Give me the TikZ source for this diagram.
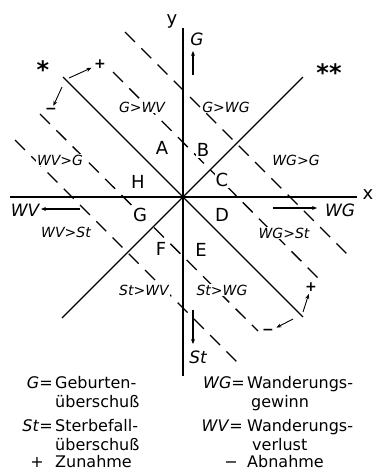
\documentclass[tikz,border=0pt]{standalone}
\usepackage{fontspec}
\setmainfont{DejaVu Sans}
\usetikzlibrary{arrows.meta,calc}

\begin{document}
\begin{tikzpicture}[
  x=1pt, y=-1pt,
  >={Stealth[length=5pt,width=4pt]},
  axisline/.style={line width=1.5pt},
  diagline/.style={line width=1.2pt},
  limitline/.style={line width=1.3pt, dash pattern=on 14pt off 9pt},
  flowarrow/.style={->, line width=1.2pt},
  trendarrow/.style={->, line width=0.9pt, shorten >=1pt},
  region/.style={font=\fontsize{18}{18}\selectfont, fill=white, inner sep=1pt},
  relation/.style={font=\fontsize{14}{14}\selectfont\itshape,
                   fill=white, inner sep=1pt},
  flowlabel/.style={font=\fontsize{17}{17}\selectfont\itshape, inner sep=0pt},
  axislabel/.style={font=\fontsize{18}{18}\selectfont, inner sep=0pt},
  sign/.style={font=\fontsize{14}{14}\selectfont\bfseries, inner sep=1.5pt},
  star/.style={font=\fontsize{24}{24}\selectfont\bfseries, inner sep=0pt},
  legkey/.style={font=\fontsize{16}{16}\selectfont, inner sep=0pt, anchor=base east},
  legtext/.style={font=\fontsize{16}{16}\selectfont, inner sep=0pt, anchor=base west},
]
\useasboundingbox (0,0) rectangle (375,472);

% --- Axes ---
\coordinate (O)  at (183,197);
\coordinate (xl) at (10,197);
\coordinate (xr) at (357,197);
\coordinate (yt) at (183,28);
\coordinate (yb) at (183,376);
\draw[axisline] (xl) -- (xr);
\draw[axisline] (yt) -- (yb);
\node[axislabel] (xlab) at (368,195) {x};
\node[axislabel] (ylab) at (172,21) {y};

% --- Solid diagonals through the origin ---
\coordinate (nw) at ($(O)+(-120,-120)$);
\coordinate (se) at ($(O)+(120,120)$);
\coordinate (ne) at ($(O)+(120,-120)$);
\coordinate (sw) at ($(O)+(-121,121)$);
\draw[diagline] (nw) -- (se);
\draw[diagline] (ne) -- (sw);

% --- Dashed limit lines, parallel to the falling diagonal ---
\foreach \n/\ax/\ay/\bx/\by in {a/125/32/352/259, b/113/72/323/283,
                                c/40/114/258/331, d/15/140/240/365}{
  \coordinate (\n1) at (\ax,\ay);
  \coordinate (\n2) at (\bx,\by);
  \draw[limitline] (\n1) -- (\n2);
}

% --- Flow arrows on the axes ---
\node[flowlabel] (G)  at (197,39)  {G};
\node[flowlabel] (St) at (198,357) {St};
\node[flowlabel] (WV) at (25,210)  {WV};
\node[flowlabel] (WG) at (340,210) {WG};
\coordinate (gS)  at (193,75);  \coordinate (gE)  at (193,51);
\coordinate (stS) at (193,310); \coordinate (stE) at (193,344);
\coordinate (wvS) at (80,209);  \coordinate (wvE) at (41,209);
\coordinate (wgS) at (273,208); \coordinate (wgE) at (317,208);
\draw[flowarrow] (gS) -- (gE);
\draw[flowarrow] (stS) -- (stE);
\draw[flowarrow] (wvS) -- (wvE);
\draw[flowarrow] (wgS) -- (wgE);

% --- Regions ---
\node[region] (rA) at (162,148) {A};
\node[region] (rB) at (203,150) {B};
\node[region] (rC) at (222,180) {C};
\node[region] (rD) at (222,215) {D};
\node[region] (rE) at (201,250) {E};
\node[region] (rF) at (161,249) {F};
\node[region] (rG) at (140,215) {G};
\node[region] (rH) at (138,182) {H};

% --- Relations between the components ---
\node[relation] (gwv)  at (142,107) {G>WV};
\node[relation] (gwg)  at (226,107) {G>WG};
\node[relation] (wgg)  at (296,160) {WG>G};
\node[relation] (wgst) at (284,233) {WG>St};
\node[relation] (stwg) at (222,290) {St>WG};
\node[relation] (stwv) at (144,290) {St>WV};
\node[relation] (wvst) at (66,232)  {WV>St};
\node[relation] (wvg)  at (60,160)  {WV>G};

% --- Stars and trend signs at the ends of the diagonal ---
\node[star] (s1) at (43,70)  {*};
\node[star] (s2) at (329,73) {**};
\node[sign] (plusNW)  at (100,64)  {+};
\node[sign] (minusNW) at (51,111)  {−};
\node[sign] (plusSE)  at (311,287) {+};
\node[sign] (minusSE) at (268,332) {−};
\coordinate (nwP) at (69,78);
\coordinate (nwM) at (62,87);
\coordinate (seP) at (303,312);
\coordinate (seM) at (293,319);
\draw[trendarrow] (nwP) -- (plusNW);
\draw[trendarrow] (nwM) -- (minusNW);
\draw[trendarrow] (seP) -- (plusSE);
\draw[trendarrow] (seM) -- (minusSE);

% --- Legend ---
\node[legkey]  (kG)   at (53,388)  {\textit{G}=};
\node[legtext] (tG1)  at (55,388)  {Geburten-};
\node[legtext] (tG2)  at (55,407)  {überschuß};
\node[legkey]  (kSt)  at (53,431)  {\textit{St}=};
\node[legtext] (tSt1) at (55,431)  {Sterbefall-};
\node[legtext] (tSt2) at (55,450)  {überschuß};
\node[legkey]  (kP)   at (44,467)  {+};
\node[legtext] (tP)   at (55,467)  {Zunahme};
\node[legkey]  (kWG)  at (245,388) {\textit{WG}=};
\node[legtext] (tWG1) at (247,388) {Wanderungs-};
\node[legtext] (tWG2) at (251,407) {gewinn};
\node[legkey]  (kWV)  at (243,431) {\textit{WV}=};
\node[legtext] (tWV1) at (247,431) {Wanderungs-};
\node[legtext] (tWV2) at (252,450) {verlust};
\node[legkey]  (kM)   at (238,467) {−};
\node[legtext] (tM)   at (247,467) {Abnahme};
\end{tikzpicture}
\end{document}
